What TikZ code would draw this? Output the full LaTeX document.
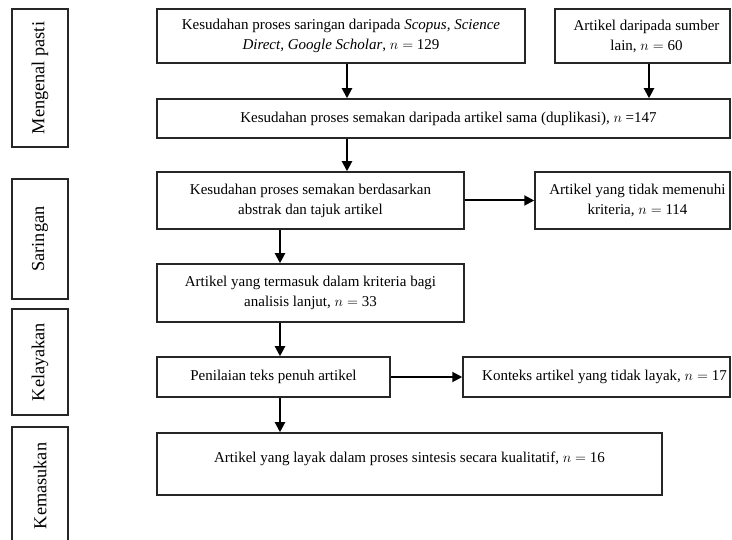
\documentclass[tikz,border=0pt]{standalone}
\usepackage{fontspec}
\setmainfont{Liberation Serif}
\usetikzlibrary{arrows.meta}
\newcommand{\nval}[1]{$n =$ #1}
\begin{document}
\begin{tikzpicture}[x=1pt,y=-1pt,
 box/.style={draw=black!85, line width=1.5pt, align=center, inner sep=0pt, fill=white,
   font=\fontsize{15}{20}\selectfont},
 side/.style={draw=black!85, line width=1.5pt, inner sep=0pt, rotate=90,
   font=\fontsize{18.3}{22}\selectfont},
 arr/.style={line width=2pt, -{Triangle[length=10pt,width=10pt]}}]
\clip (0,0) rectangle (732,540);
\fill[white] (0,0) rectangle (732,540);
% stage labels
\node[side, minimum width=138pt, minimum height=56pt] (m1) at (40,78) {Mengenal pasti};
\node[side, minimum width=120pt, minimum height=56pt] (m2) at (40,239) {Saringan};
\node[side, minimum width=106pt, minimum height=56pt] (m3) at (40,362) {Kelayakan};
\node[side, minimum width=118pt, minimum height=56pt] (m4) at (40,486) {Kemasukan};
% boxes
\node[box, minimum width=368pt, minimum height=54pt] (b1) at (341,36)
  {Kesudahan proses saringan daripada \textit{Scopus, Science}\\\textit{Direct, Google Scholar}, \nval{129}};
\node[box, minimum width=175pt, minimum height=54pt] (b2) at (642.5,36)
  {\hspace*{8pt}Artikel daripada sumber\\\hspace*{8pt}lain, \nval{60}};
\node[box, minimum width=573pt, minimum height=39pt] (b3) at (443.5,118.5)
  {\hspace*{10pt}Kesudahan proses semakan daripada artikel sama (duplikasi), $n$ =147};
\node[box, minimum width=307pt, minimum height=57pt] (b4) at (310.5,200.5)
  {Kesudahan proses semakan berdasarkan\\abstrak dan tajuk artikel};
\node[box, minimum width=195pt, minimum height=57pt] (b5) at (632.5,200.5)
  {\hspace*{10pt}Artikel yang tidak memenuhi\\\hspace*{10pt}kriteria, \nval{114}};
\node[box, minimum width=307pt, minimum height=58pt] (b6) at (310.5,293)
  {Artikel yang termasuk dalam kriteria bagi\\analisis lanjut, \nval{33}};
\node[box, minimum width=233pt, minimum height=40pt] (b7) at (273.5,377)
  {Penilaian teks penuh artikel};
\node[box, minimum width=267pt, minimum height=40pt] (b8) at (596.5,377)
  {\hspace*{16pt}Konteks artikel yang tidak layak, \nval{17}};
\node[box, minimum width=505pt, minimum height=62pt, text depth=14.5pt] (b9) at (409.5,464)
  {Artikel yang layak dalam proses sintesis secara kualitatif, \nval{16}};
% arrow guide coordinates
\coordinate (c1) at (347,0);
\coordinate (c2) at (649,0);
\coordinate (c3) at (280,0);
% arrows
\draw[arr] (b1.south -| c1) -- (b3.north -| c1);
\draw[arr] (b2.south -| c2) -- (b3.north -| c2);
\draw[arr] (b3.south -| c1) -- (b4.north -| c1);
\draw[arr] (b4.east) -- (b5.west);
\draw[arr] (b4.south -| c3) -- (b6.north -| c3);
\draw[arr] (b6.south -| c3) -- (b7.north -| c3);
\draw[arr] (b7.east) -- (b8.west);
\draw[arr] (b7.south -| c3) -- (b9.north -| c3);
\end{tikzpicture}
\end{document}
